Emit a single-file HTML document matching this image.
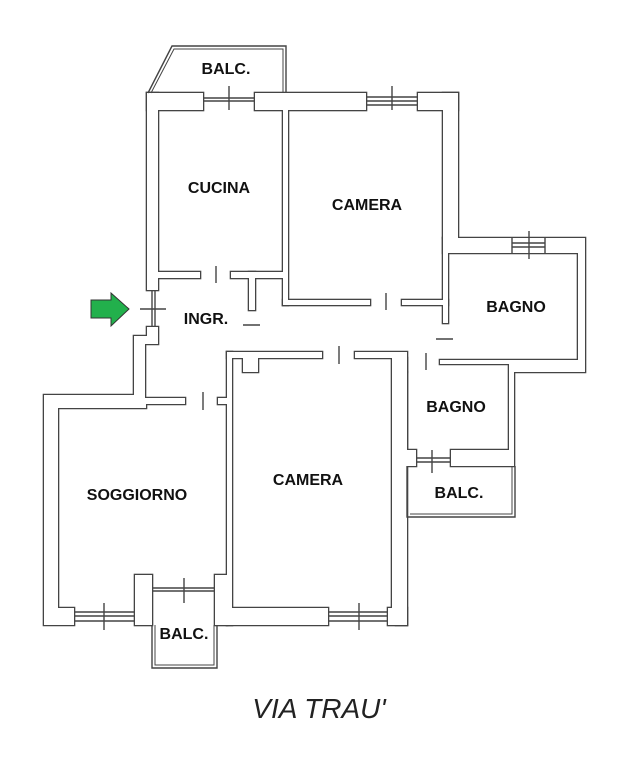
<!DOCTYPE html>
<html><head><meta charset="utf-8"><style>
html,body{margin:0;padding:0;background:#fff;width:642px;height:768px;overflow:hidden}
svg text{font-family:"Liberation Sans",sans-serif;font-weight:bold;font-size:16px;fill:#111;text-anchor:middle}
</style></head><body>
<svg width="642" height="768" viewBox="0 0 642 768" xmlns="http://www.w3.org/2000/svg">
<defs>
<g id="w">
<rect x="147" y="93" width="56" height="17"/>
<rect x="255" y="93" width="111" height="17"/>
<rect x="418" y="93" width="40" height="17"/>
<rect x="443" y="93" width="15" height="145"/>
<rect x="147" y="93" width="11" height="197"/>
<rect x="283" y="110" width="5" height="195"/>
<rect x="158" y="272" width="42" height="6"/>
<rect x="231" y="272" width="52" height="6"/>
<rect x="249" y="272" width="6" height="38"/>
<rect x="283" y="300" width="87" height="5"/>
<rect x="402" y="300" width="46" height="5"/>
<rect x="443" y="238" width="5" height="85"/>
<path d="M443,238 H585 V372 H514 V466 H451 V450 H509 V364 H440 V360 H578 V253 H443 Z"/>
<path d="M147,327 H158 V344 H145 V398 H185 V404 H146 V408 H58 V608 H74 V625 H44 V395 H134 V336 H147 Z"/>
<rect x="218" y="398" width="9" height="6"/>
<rect x="135" y="575" width="17" height="50"/>
<rect x="215" y="575" width="12" height="50"/>
<rect x="227" y="352" width="5" height="273"/>
<path d="M227,352 H322 V358 H258 V372 H243 V358 H227 Z"/>
<path d="M355,352 H407 V372 H396 V608 H392 V358 H355 Z"/>
<rect x="396" y="358" width="11" height="267"/>
<path d="M227,608 H328 V625 H227 Z"/>
<rect x="388" y="608" width="19" height="17"/>
<path d="M396,372 V434 H407 V450 H416 V466 H407 V372 Z"/>
</g>
</defs>
<use href="#w" fill="#fff" stroke="#444" stroke-width="2.6"/>
<use href="#w" fill="#fff" stroke="none"/>
<g fill="none" stroke="#444" stroke-width="1.4">
<polyline points="148,93 172,46 286,46 286,93"/>
<polyline points="151,93 174,49 283,49 283,93" stroke-width="1"/>
<line x1="203" y1="98" x2="255" y2="98"/><line x1="203" y1="101" x2="255" y2="101"/>
<line x1="366" y1="97" x2="418" y2="97"/><line x1="366" y1="101" x2="418" y2="101"/><line x1="366" y1="105" x2="418" y2="105"/>
<line x1="229" y1="86" x2="229" y2="110"/><line x1="392" y1="86" x2="392" y2="110"/>
<line x1="216" y1="266" x2="216" y2="283"/>
<line x1="386" y1="293" x2="386" y2="310"/>
<line x1="243" y1="325" x2="260" y2="325"/>
<line x1="512" y1="238" x2="512" y2="253"/><line x1="545" y1="238" x2="545" y2="253"/>
<line x1="512" y1="243" x2="545" y2="243"/><line x1="512" y1="247" x2="545" y2="247"/>
<line x1="529" y1="231" x2="529" y2="259"/>
<line x1="436" y1="339" x2="453" y2="339"/>
<line x1="426" y1="353" x2="426" y2="370"/>
<line x1="152" y1="290" x2="152" y2="327"/><line x1="155" y1="290" x2="155" y2="327"/>
<line x1="140" y1="309" x2="166" y2="309"/>
<line x1="203" y1="392" x2="203" y2="410"/>
<line x1="74" y1="612" x2="135" y2="612"/><line x1="74" y1="616" x2="135" y2="616"/><line x1="74" y1="621" x2="135" y2="621"/>
<line x1="104" y1="603" x2="104" y2="630"/>
<polyline points="152,625 152,668 217,668 217,625"/>
<polyline points="155,625 155,665 214,665 214,625" stroke-width="1"/>
<line x1="152" y1="588" x2="215" y2="588"/><line x1="152" y1="591" x2="215" y2="591"/>
<line x1="184" y1="578" x2="184" y2="603"/>
<line x1="339" y1="346" x2="339" y2="364"/>
<line x1="328" y1="612" x2="388" y2="612"/><line x1="328" y1="616" x2="388" y2="616"/><line x1="328" y1="621" x2="388" y2="621"/>
<line x1="359" y1="603" x2="359" y2="630"/>
<line x1="416" y1="458" x2="451" y2="458"/><line x1="416" y1="462" x2="451" y2="462"/>
<line x1="432" y1="450" x2="432" y2="473"/>
<polyline points="407,466 407,517 515,517 515,466"/>
<polyline points="410,514 512,514 512,466" stroke-width="1"/>
</g>
<path d="M91,300 H111 V293 L129,309 L111,326 V318 H91 Z" fill="#22b04c" stroke="#333" stroke-width="1"/>
<text x="226" y="74">BALC.</text>
<text x="219" y="193">CUCINA</text>
<text x="367" y="210">CAMERA</text>
<text x="206" y="324">INGR.</text>
<text x="516" y="312">BAGNO</text>
<text x="456" y="412">BAGNO</text>
<text x="459" y="498">BALC.</text>
<text x="137" y="500">SOGGIORNO</text>
<text x="308" y="485">CAMERA</text>
<text x="184" y="639">BALC.</text>
<text x="319" y="718" style="font-weight:normal;font-style:italic;font-size:28px;fill:#222">VIA TRAU'</text>
</svg>
</body></html>
